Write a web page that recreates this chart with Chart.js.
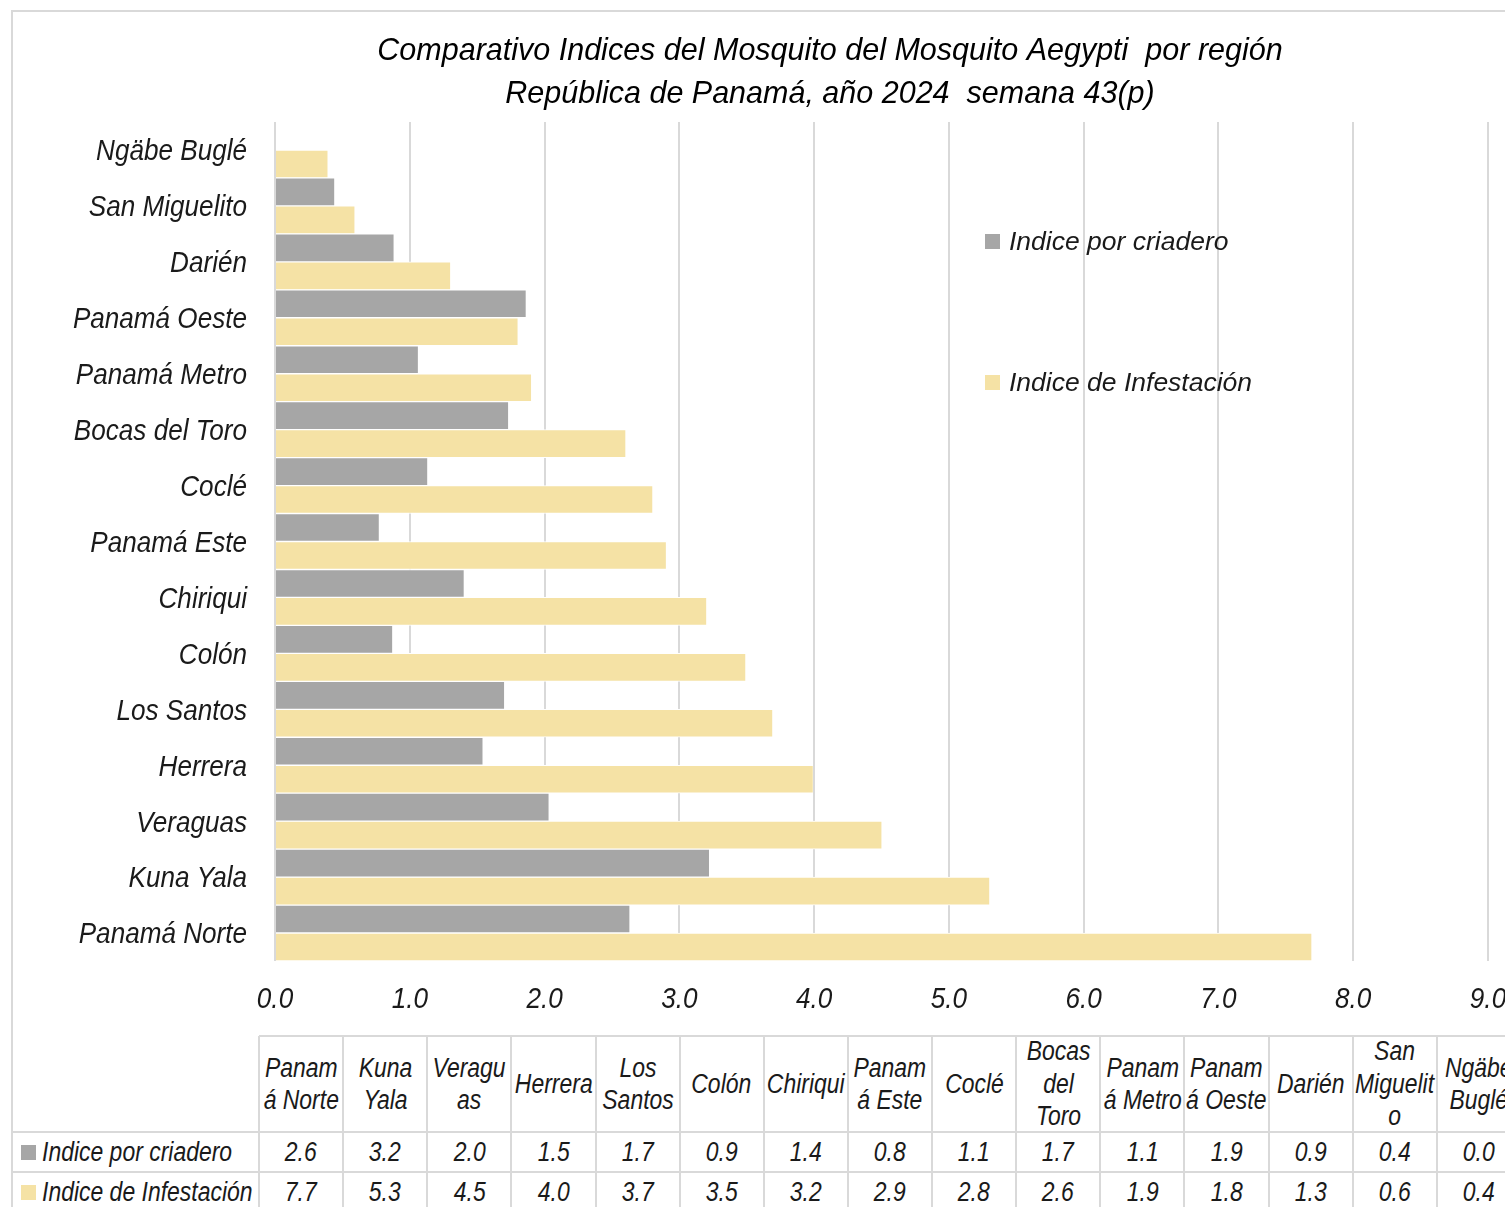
<!DOCTYPE html>
<html>
<head>
<meta charset="utf-8">
<script src="https://cdn.jsdelivr.net/npm/chart.js@4.4.1/dist/chart.umd.min.js"></script>
<style>
  html, body { margin: 0; padding: 0; background: #fff; width: 1505px; height: 1207px; overflow: hidden; position: relative; }
  #frame { position: absolute; left: 11px; top: 10px; width: 1700px; height: 1300px; border: 2px solid #d9d9d9; box-sizing: border-box; }
  #chartBox { position: absolute; left: 12px; top: 11px; width: 1636px; height: 1020px; }
  #table { position: absolute; left: 0; top: 0; }
  .cell { position: absolute; box-sizing: border-box; display: flex; align-items: center; justify-content: center; text-align: center;
          font-family: 'Liberation Sans', Arial, sans-serif; font-style: italic; color: #1a1a1a; white-space: nowrap; }
  .cell span.t { display: inline-block; transform: scaleX(0.85); transform-origin: center; }
  .cell.left span.t { transform-origin: left center; }
  .cell span.sq { display: inline-block; flex: none; width: 15px; height: 15px; margin-right: 6px; }
  .hline, .vline { position: absolute; background: #d9d9d9; }
</style>
</head>
<body>
<div id="frame"></div>
<div id="chartBox"><canvas id="my-chart" width="1636" height="1020"></canvas></div>
<div id="table"></div>
<script>
// table order (Excel draws the first one at the bottom of the chart)
const regions = ['Panamá Norte', 'Kuna Yala', 'Veraguas', 'Herrera', 'Los Santos', 'Colón', 'Chiriqui',
  'Panamá Este', 'Coclé', 'Bocas del Toro', 'Panamá Metro', 'Panamá Oeste', 'Darién', 'San Miguelito', 'Ngäbe Buglé'];
const headerLines = [['Panam', 'á Norte'], ['Kuna', 'Yala'], ['Veragu', 'as'], ['Herrera'], ['Los', 'Santos'], ['Colón'],
  ['Chiriqui'], ['Panam', 'á Este'], ['Coclé'], ['Bocas', 'del', 'Toro'], ['Panam', 'á Metro'], ['Panam', 'á Oeste'],
  ['Darién'], ['San', 'Miguelit', 'o'], ['Ngäbe', 'Buglé']];
const criadero = [2.63, 3.22, 2.03, 1.54, 1.70, 0.87, 1.40, 0.77, 1.13, 1.73, 1.06, 1.86, 0.88, 0.44, 0.0];
const infestacion = [7.69, 5.30, 4.50, 3.99, 3.69, 3.49, 3.20, 2.90, 2.80, 2.60, 1.90, 1.80, 1.30, 0.59, 0.39];
const seriesNames = ['Indice por criadero', 'Indice de Infestación'];
const seriesColors = ['#a6a6a6', '#f5e2a5'];
const titleLines = ['Comparativo Indices del Mosquito del Mosquito Aegypti  por región', 'República de Panamá, año 2024  semana 43(p)'];

const fontFamily = "'Liberation Sans', Arial, sans-serif";
const textColor = '#1a1a1a';

// the axis labels of the original are a narrow face: squeeze 30px text sideways
const rawFill = CanvasRenderingContext2D.prototype.fillText;
CanvasRenderingContext2D.prototype.fillText = function (t, x, y, mw) {
  const m = this.font.match(/([\d.]+)px/);
  if (m && m[1] === '30') {
    this.save();
    this.translate(x, y + 2);
    this.scale(0.87, 1);
    rawFill.call(this, t, 0, 0);
    this.restore();
    return;
  }
  return mw === undefined ? rawFill.call(this, t, x, y) : rawFill.call(this, t, x, y, mw);
};

// legend drawn inside the plot, like the Excel one
const sideLegend = {
  id: 'sideLegend',
  afterDraw(chart) {
    const c = chart.ctx;
    const spots = [[973, 231], [973, 372]];
    c.save();
    c.font = 'italic 26.5px ' + fontFamily;
    c.textBaseline = 'middle';
    chart.data.datasets.forEach((ds, i) => {
      const [x, y] = spots[i];
      c.fillStyle = ds.backgroundColor;
      c.fillRect(x, y - 8, 15, 15);
      c.fillStyle = textColor;
      c.fillText(ds.label, x + 24, y + 1);
    });
    c.restore();
  }
};

const ctx = document.getElementById('my-chart').getContext('2d');
const chart = new Chart(ctx, {
  type: 'bar',
  data: {
    labels: regions.slice().reverse(),
    datasets: [
      { label: seriesNames[0], data: criadero.slice().reverse(), backgroundColor: seriesColors[0],
        categoryPercentage: 1, barPercentage: 1, borderColor: '#ffffff', borderWidth: { top: 1, bottom: 1 } },
      { label: seriesNames[1], data: infestacion.slice().reverse(), backgroundColor: seriesColors[1],
        categoryPercentage: 1, barPercentage: 1, borderColor: '#ffffff', borderWidth: { top: 1, bottom: 1 } }
    ]
  },
  options: {
    indexAxis: 'y',
    responsive: false,
    animation: false,
    layout: { padding: 0 },
    plugins: {
      legend: { display: false },
      tooltip: { enabled: false },
      title: {
        display: true,
        text: titleLines,
        color: '#000',
        font: { family: fontFamily, style: 'italic', weight: 'normal', size: 30.5, lineHeight: 1.41 },
        padding: { top: 19, bottom: 6 }
      }
    },
    scales: {
      x: {
        min: 0, max: 9,
        ticks: { stepSize: 1, callback: v => v.toFixed(1), color: textColor, padding: 19,
          font: { family: fontFamily, style: 'italic', size: 30 } },
        grid: { color: '#d9d9d9', lineWidth: 2, drawTicks: false },
        border: { display: false },
        afterFit(s) { s.height = 70; }
      },
      y: {
        ticks: { color: textColor, padding: 28, font: { family: fontFamily, style: 'italic', size: 30 } },
        grid: { display: false, drawTicks: false },
        border: { display: false },
        afterFit(s) { s.width = 263; }
      },
      // empty strip on the right, keeps the plot where the original has it
      yPad: {
        position: 'right',
        ticks: { display: false },
        grid: { display: false, drawTicks: false },
        border: { display: false },
        afterFit(s) { s.width = 160; }
      }
    }
  },
  plugins: [sideLegend]
});

// data table under the chart
const table = document.getElementById('table');
const colLeft = 259, colW = 84.13, rowTops = [1036, 1132, 1172, 1212];
function line(cls, x, y, w, h) {
  const d = document.createElement('div');
  d.className = cls;
  Object.assign(d.style, { left: x + 'px', top: y + 'px', width: w + 'px', height: h + 'px' });
  table.appendChild(d);
}
function cell(x, y, w, h, html, size, extra, cls) {
  const d = document.createElement('div');
  d.className = 'cell' + (cls ? ' ' + cls : '');
  Object.assign(d.style, { left: x + 'px', top: y + 'px', width: w + 'px', height: h + 'px', fontSize: size + 'px' }, extra || {});
  d.innerHTML = html;
  table.appendChild(d);
}
// grid lines
line('hline', colLeft, rowTops[0] - 1, colW * 15 + 10, 2);
line('hline', 12, rowTops[1] - 1, 1600, 2);
line('hline', 12, rowTops[2] - 1, 1600, 2);
for (let i = 0; i <= 15; i++) line('vline', colLeft + i * colW - 1, rowTops[0], 2, 200);
// header
headerLines.forEach((ls, i) => {
  cell(colLeft + i * colW, rowTops[0], colW, rowTops[1] - rowTops[0], '<span class="t">' + ls.join('<br>') + '</span>', 27,
    { lineHeight: '32.5px' });
});
// series rows
[criadero, infestacion].forEach((vals, r) => {
  const y = rowTops[r + 1], h = rowTops[r + 2] - rowTops[r + 1];
  cell(12, y, colLeft - 12, h,
    '<span class="sq" style="background:' + seriesColors[r] + '"></span>' +
    '<span class="t">' + seriesNames[r] + '</span>',
    27, { justifyContent: 'flex-start', paddingLeft: '9px' }, 'left');
  vals.forEach((v, i) => cell(colLeft + i * colW, y, colW, h, '<span class="t">' + v.toFixed(1) + '</span>', 27));
});
</script>
</body>
</html>
